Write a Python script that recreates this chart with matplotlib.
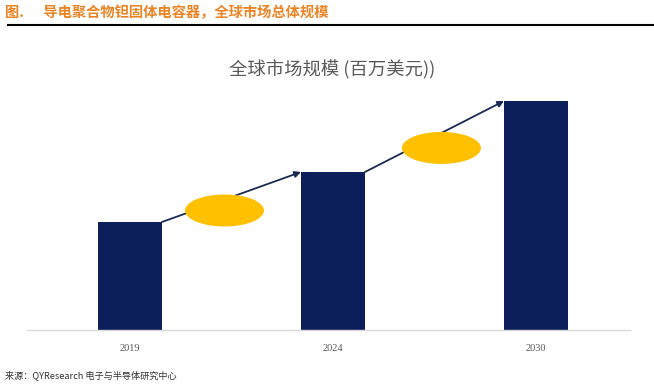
import matplotlib
matplotlib.use("Agg")
import matplotlib.pyplot as plt
from matplotlib.patches import Ellipse
from matplotlib.lines import Line2D

plt.rcParams['font.family'] = ['Noto Sans CJK SC', 'DejaVu Sans']

# ---- data ----
years = ["2019", "2024", "2030"]
market_size = [108, 158, 229]   # relative heights (no value axis shown)

header = "图.      导电聚合物钽固体电容器，全球市场总体规模"
chart_title = "全球市场规模 (百万美元))"
source = "来源：QYResearch 电子与半导体研究中心"

# styling for growth ellipses (position along arrow, vertical offset)
ell_t = [0.45, 0.55]
ell_dy = [-11, -15]

W, H = 654, 388
fig = plt.figure(figsize=(W / 100, H / 100), dpi=100)

def fx(px):
    return px / W

def fy(py):
    return 1 - py / H

ax = fig.add_axes([fx(27), fy(330), fx(603), (330 - 95) / H])
x = list(range(len(years)))
bw = 0.315
ax.bar(x, market_size, width=bw, color="#0C1F5B", zorder=2)
ax.set_xlim(-0.507, 2.463)
ax.set_ylim(0, 235)
ax.set_yticks([])
ax.set_xticks(x)
ax.set_xticklabels(years, family="Liberation Serif", fontsize=7.5, color="#595959")
ax.tick_params(axis="x", length=0, pad=10)
for s in ["top", "right", "left"]:
    ax.spines[s].set_visible(False)
ax.spines["bottom"].set_color("#D9D9D9")
ax.spines["bottom"].set_linewidth(1.0)

for i in range(len(x) - 1):
    x0, y0 = x[i] + bw / 2, market_size[i]
    x1, y1 = x[i + 1] - bw / 2, market_size[i + 1]
    ax.annotate("", xy=(x1, y1), xytext=(x0, y0),
                arrowprops=dict(arrowstyle="-|>", color="#1B2A52", lw=1.3,
                                mutation_scale=9, shrinkA=0, shrinkB=0),
                zorder=3)
    t = ell_t[i]
    cx = x0 + t * (x1 - x0)
    cy = y0 + t * (y1 - y0) + ell_dy[i]
    ax.add_patch(Ellipse((cx, cy), 0.389, 32, color="#FFC000", zorder=4, lw=0))

fig.text(fx(332), fy(70), chart_title, ha="center", va="center",
         fontsize=13.2, color="#595959")

fig.text(fx(5), fy(12.5), header, ha="left", va="center", fontsize=10.3,
         color="#EA8424", fontweight="bold")
fig.add_artist(Line2D([fx(8), fx(654)], [fy(24.5), fy(24.5)], color="black", lw=1.5))

fig.text(fx(5), fy(375), source, ha="left", va="center", fontsize=6.6,
         color="#333333", style="italic")

fig.savefig("out.png", dpi=100)
